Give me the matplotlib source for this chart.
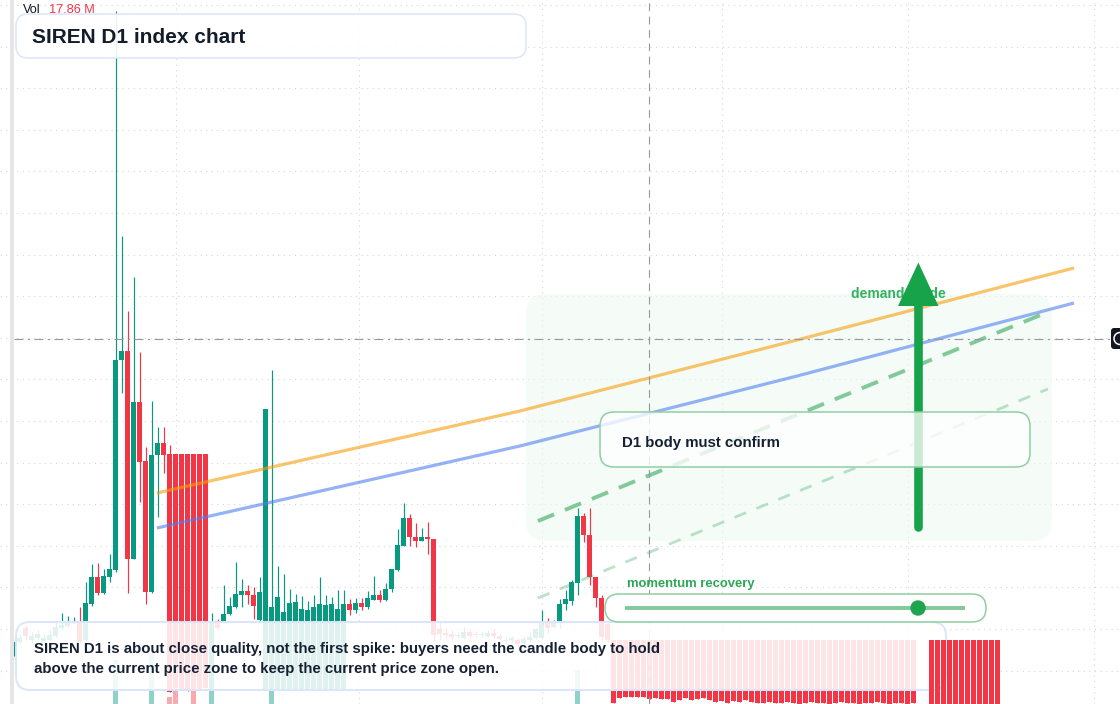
import numpy as np
import matplotlib
matplotlib.use("Agg")
import matplotlib.pyplot as plt
from matplotlib.patches import FancyBboxPatch, Polygon, Circle, Rectangle
from matplotlib.lines import Line2D
from matplotlib.transforms import Affine2D

plt.rcParams['font.family'] = ['Liberation Sans', 'DejaVu Sans']

W, H = 1120, 704
TEAL = '#089981'
RED = '#f23645'
INK = '#162033'

# ---- data (price in chart points, candle index = trading day) ----
days = np.arange(-12, 153)

opens = ([48, 62, 76, 64, 66, 62, 64, 68, 76, 78, 81, 83,
          64, 100, 127, 111, 127, 134, 344, 353, 145, 302, 243, 112, 249, 261,
          250, 250, 250, 250, 250, 250, 250,
          14, 83, 82, 90, 97, 109, 113, 109, 84,
          14, 14, 14, 14, 14, 14, 14, 14, 14, 14, 14, 14, 14, 14,
          100, 94, 101, 97, 104, 109, 104, 115, 134, 158, 186, 167, 163, 167,
          165, 75, 71, 70, 68, 66, 72, 70, 69, 68, 71, 68, 63, 64, 64, 61, 64, 66,
          66, 82, 77, 82, 100, 103, 121, 188, 169, 127, 106, 80]
         + [64] * 51 + [np.nan, np.nan] + [64] * 12)
highs = ([62, 70, 79, 72, 74, 70, 74, 82, 91, 88, 87, 97,
          122, 140, 141, 135, 150, 693, 468, 393, 427, 352, 257, 303, 277, 277,
          259, 250, 250, 250, 250, 250, 250,
          91, 85, 119, 107, 142, 125, 119, 117, 127,
          295, 334, 138, 130, 115, 110, 108, 103, 109, 127, 109, 107, 114, 114,
          105, 106, 106, 113, 128, 114, 121, 135, 175, 201, 190, 181, 176, 182,
          165, 82, 76, 74, 72, 77, 75, 73, 73, 74, 75, 70, 67, 68, 66, 68, 72, 76,
          94, 86, 84, 105, 114, 124, 196, 191, 196, 127, 109, 82]
         + [64] * 51 + [np.nan, np.nan] + [64] * 12)
lows = ([48, 60, 64, 62, 64, 60, 63, 67, 74, 77, 80, 61,
         63, 98, 109, 110, 122, 132, 311, 111, 145, 202, 100, 111, 187, 231,
         12, 16, 14, 13, 15, 14, 16,
         14, 74, 81, 89, 96, 97, 100, 85, 83,
         14, 14, 14, 14, 14, 14, 14, 14, 14, 14, 14, 14, 14, 14,
         89, 91, 94, 95, 104, 102, 103, 112, 133, 158, 158, 157, 163, 150,
         64, 64, 65, 64, 66, 65, 66, 67, 67, 67, 66, 63, 61, 62, 58, 59, 63, 65,
         65, 71, 76, 76, 94, 99, 109, 162, 119, 97, 64, 62,
         1, 6, 7, 7, 7, 7, 5, 6, 5, 5, 2, 4, 6, 4, 5, 6, 4, 2, 3, 1, 3, 2, 4, 2, 1,
         1, 2, 1, 1, 2, 1, 0, 1, 2, 1, 1, 0, 1, 2, 1, 1, 0, 1, 1, 2, 1, 0, 1, 1, 0, 1,
         np.nan, np.nan] + [0] * 12)
closes = ([62, 66, 68, 68, 70, 66, 69, 77, 79, 82, 83, 62,
           101, 127, 111, 128, 135, 344, 353, 145, 302, 242, 112, 249, 261, 249,
           12, 16, 14, 13, 15, 14, 16,
           82, 76, 90, 98, 110, 113, 109, 98, 112,
           295, 97, 107, 92, 101, 102, 95, 94, 97, 100, 99, 100, 95, 100,
           94, 101, 97, 106, 109, 104, 115, 135, 159, 186, 167, 163, 167, 165,
           69, 70, 69, 67, 69, 72, 68, 69, 70, 71, 68, 65, 64, 66, 60, 65, 67, 75,
           82, 76, 82, 100, 105, 122, 188, 169, 127, 106, 67, 64,
           1, 6, 7, 7, 7, 7, 5, 6, 5, 5, 2, 4, 6, 4, 5, 6, 4, 2, 3, 1, 3, 2, 4, 2, 1,
           1, 2, 1, 1, 2, 1, 0, 1, 2, 1, 1, 0, 1, 2, 1, 1, 0, 1, 1, 2, 1, 0, 1, 1, 0, 1,
           np.nan, np.nan] + [0] * 12)

vol_days = [5, 11, 14, 15, 18, 21, 31, 82]
vol_m = [25.0, 29.0, 4.0, 10.8, 8.0, 8.0, 8.0, 19.3]

# guide lines (day, price)
trend_days = [11.9, 72.4, 118.6, 164.75]
orange_line = [211, 293, 364, 436]
blue_line = [176, 258, 328, 401]
target_days = [75.4, 160.4]
upper_path = [183, 392]
lower_path = [106, 315]

crosshair_price = 365.5
crosshair_day = 93.9

o = np.array(opens, float)
hi = np.array(highs, float)
lo = np.array(lows, float)
c = np.array(closes, float)

fig = plt.figure(figsize=(W / 100, H / 100), dpi=100, facecolor='white')
ax = fig.add_axes([0, 0, 1, 1])
ax.set_xlim(-85.5 / 6, (W - 85.5) / 6)
ax.set_ylim(0, H)
for s in ax.spines.values():
    s.set_visible(False)
ax.set_xticks([15, 45.5, 76, 106, 137, 168])
ax.set_yticks(np.arange(33.5, H, 41.6))
ax.tick_params(length=0, labelleft=False, labelbottom=False)
ax.grid(True, color='#d3d6dc', lw=0.8, ls=(0, (1, 4)))
ax.set_axisbelow(True)

# volume pane under everything
vax = ax.twinx()
vax.set_ylim(0, 400)
vax.axis('off')
vcol = ['#8fd3c8' if c[days == d][0] >= o[days == d][0] else '#f8a9ad' for d in vol_days]
vax.bar(vol_days, vol_m, width=0.82, color=vcol, lw=0)
vax.set_zorder(0)
ax.set_zorder(1)
ax.patch.set_visible(False)

pix = Affine2D().scale(1, -1).translate(0, H)


def rbox(x0, y0, x1, y1, r, fc, ec, lw, z, alpha=1.0):
    p = FancyBboxPatch((x0, y0), x1 - x0, y1 - y0,
                       boxstyle=f"round,pad=0,rounding_size={r}",
                       fc=fc, ec=ec, lw=lw, transform=pix, zorder=z)
    if alpha < 1:
        p.set_facecolor(matplotlib.colors.to_rgba(fc, alpha))
    ax.add_patch(p)
    return p


# demand zone
rbox(526, 294, 1052, 541, 20, '#eefaf2', 'none', 0, 1, alpha=0.55)

# candles
valid = ~np.isnan(o)
up = c >= o
late = days >= 141
for grp, z in [(valid & ~late, 2), (valid & late, 6.5)]:
    for is_up, col in [(True, TEAL), (False, RED)]:
        m = grp & (up == is_up)
        ax.vlines(days[m], lo[m], hi[m], color=col, lw=0.85, zorder=z)
        ax.bar(days[m], np.maximum(np.abs(c[m] - o[m]), 1.0),
               bottom=np.minimum(o[m], c[m]), width=0.82, color=col, lw=0, zorder=z + 0.1)

# trend guides
ax.plot(trend_days, orange_line, color='#f59e0b', alpha=0.6, lw=2.3, zorder=3,
        solid_capstyle='butt')
ax.plot(trend_days, blue_line, color='#4f7ff0', alpha=0.6, lw=2.3, zorder=3,
        solid_capstyle='butt')
ax.plot(target_days, upper_path, color='#22a04b', alpha=0.55, lw=2.8, zorder=3.1,
        ls=(0, (4.5, 3)))
ax.plot(target_days, lower_path, color='#22a04b', alpha=0.3, lw=2.0, zorder=3.1,
        ls=(0, (4.5, 4)))

# crosshair
ax.axhline(crosshair_price, xmin=14 / W, xmax=1110 / W, color='#9598a1', lw=0.8,
           ls=(0, (8, 4, 2, 4)), zorder=3.5)
ax.axvline(crosshair_day, color='#9598a1', lw=0.8, ls=(0, (7, 5)), zorder=3.5)

# demand arrow
ax.text(851, 297.7, 'demand guide', transform=pix, fontsize=10, fontweight='bold',
        color='#2fb35c', zorder=4)
ax.add_line(Line2D([918.4, 918.4], [527, 300], transform=pix, color='#16a34a', lw=6.2,
                   solid_capstyle='round', zorder=4.5))
ax.add_patch(Polygon([(898, 306), (938.5, 306), (918.4, 262.5)], closed=True,
                     transform=pix, color='#16a34a', lw=0, zorder=4.5))

# confirm box
rbox(600, 412, 1030, 467, 14, 'white', '#8fcfa3', 1.1, 5, alpha=0.78)
ax.text(622, 447, 'D1 body must confirm', transform=pix, fontsize=10.8, fontweight='bold',
        color=INK, zorder=5.1)

# caption
rbox(16, 622, 946, 690, 14, 'white', '#dbe6f9', 1.4, 6, alpha=0.88)
ax.text(34, 652.7, 'SIREN D1 is about close quality, not the first spike: buyers need the candle body to hold',
        transform=pix, fontsize=10.8, fontweight='bold', color=INK, zorder=6.1)
ax.text(34, 672.7, 'above the current price zone to keep the current price zone open.',
        transform=pix, fontsize=10.8, fontweight='bold', color=INK, zorder=6.1)

# momentum slider
ax.text(627, 587.3, 'momentum recovery', transform=pix, fontsize=9.4, fontweight='bold',
        color='#2aa856', zorder=7)
rbox(605, 594, 986, 622, 14, 'white', '#8fcfa3', 1.1, 7)
ax.add_line(Line2D([627, 963], [608, 608], transform=pix, color='#22a04b', alpha=0.55,
                   lw=2.9, zorder=7.1))
ax.add_patch(Circle((918, 608), 7, transform=pix, color='#1fa64d', zorder=7.2))

# title
rbox(16, 14, 526, 58, 12, 'white', '#dbe6f9', 1.1, 7, alpha=0.9)
ax.text(32, 43.3, 'SIREN D1 index chart', transform=pix, fontsize=15, fontweight='bold',
        color='#131c2b', zorder=7.1)
ax.text(23, 12.7, 'Vol', transform=pix, fontsize=9.2, color='#131722', zorder=7.1)
ax.text(49, 12.7, '17.86 M', transform=pix, fontsize=9.2, color=RED, zorder=7.1)

# price scale edge + crosshair label
ax.add_patch(Rectangle((10, 0), 4, H, transform=pix, color='#e6e6e6', lw=0, zorder=8))
rbox(1111, 328, 1140, 349, 3, '#131722', 'none', 0, 8)
ax.add_patch(Circle((1120, 338.5), 6, transform=pix, fill=False, ec='white', lw=1.1, zorder=8.1))

fig.savefig('out.png', dpi=100, facecolor='white')
